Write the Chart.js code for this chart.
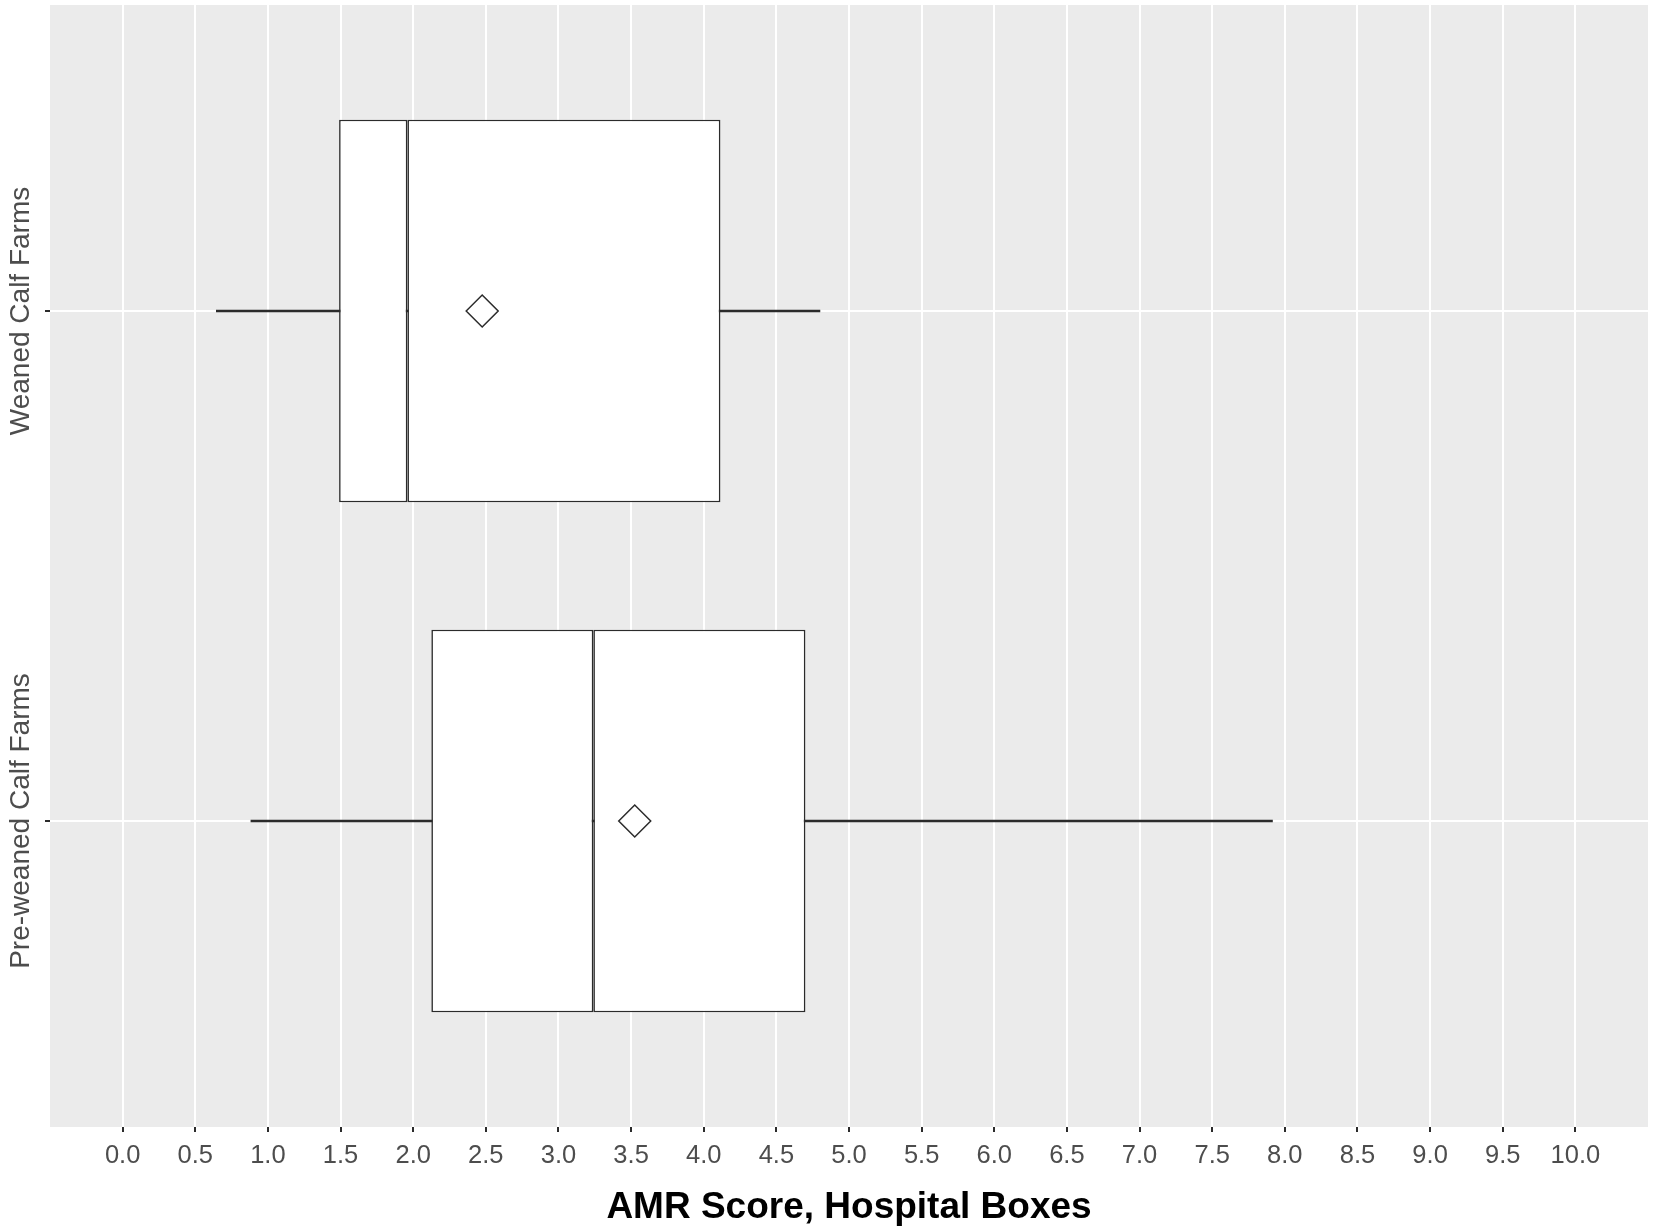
<!DOCTYPE html>
<html>
<head>
<meta charset="utf-8">
<script src="https://cdn.jsdelivr.net/npm/chart.js@4.4.1/dist/chart.umd.min.js"></script>
<style>
  body { margin: 0; background: #ffffff; }
  #wrap { width: 1654px; height: 1229px; }
</style>
</head>
<body>
<div id="wrap"><canvas id="amrChart" width="1654" height="1229"></canvas></div>
<script>
// categories, bottom to top (index 0 is drawn at the bottom, like ggplot)
const categories = ['Pre-weaned Calf Farms', 'Weaned Calf Farms'];

// box plot summaries
const whiskerLow = [0.883, 0.645];
const q1 = [2.125, 1.490];
const median = [3.240, 1.960];
const q3 = [4.700, 4.115];
const whiskerHigh = [7.915, 4.800];
const means = [3.525, 2.475];

// x axis tick labels
const xTickValues = [0.0, 0.5, 1.0, 1.5, 2.0, 2.5, 3.0, 3.5, 4.0, 4.5, 5.0,
  5.5, 6.0, 6.5, 7.0, 7.5, 8.0, 8.5, 9.0, 9.5, 10.0];

const lineColor = '#2b2b2b';
const textGrey = '#4D4D4D';

// grey panel behind the grid
const panelBackground = {
  id: 'panelBackground',
  beforeDraw(chart) {
    const { ctx, chartArea: a } = chart;
    ctx.save();
    ctx.fillStyle = '#EBEBEB';
    ctx.fillRect(a.left, a.top, a.right - a.left, a.bottom - a.top);
    ctx.restore();
  }
};

// rotated category labels on the left (Chart.js won't rotate y tick labels)
const categoryLabels = {
  id: 'categoryLabels',
  afterDraw(chart) {
    const { ctx } = chart;
    const yScale = chart.scales.y;
    ctx.save();
    ctx.fillStyle = textGrey;
    ctx.font = '28px "Liberation Sans", Arial, sans-serif';
    ctx.textAlign = 'center';
    ctx.textBaseline = 'middle';
    categories.forEach((label, i) => {
      const y = yScale.getPixelForValue(i);
      ctx.save();
      ctx.translate(21, y);
      ctx.rotate(-Math.PI / 2);
      ctx.fillText(label, 0, 0);
      ctx.restore();
    });
    ctx.restore();
  }
};

const boxStyle = {
  type: 'bar',
  backgroundColor: '#FFFFFF',
  borderColor: lineColor,
  borderWidth: 1.6,
  borderSkipped: false,
  grouped: false,
  categoryPercentage: 1,
  barPercentage: 0.75,
  order: 2
};

const ctx = document.getElementById('amrChart').getContext('2d');
new Chart(ctx, {
  type: 'bar',
  data: {
    datasets: [
      {
        type: 'scatter',
        label: 'Mean',
        data: categories.map((c, i) => ({ x: means[i], y: i })),
        pointStyle: 'rectRot',
        pointRadius: 16,
        pointBorderWidth: 1.5,
        pointBorderColor: lineColor,
        pointBackgroundColor: 'rgba(255,255,255,0)',
        order: 1
      },
      Object.assign({}, boxStyle, {
        label: 'Q1-Median',
        data: categories.map((c, i) => ({ x: [q1[i], median[i]], y: i }))
      }),
      Object.assign({}, boxStyle, {
        label: 'Median-Q3',
        data: categories.map((c, i) => ({ x: [median[i], q3[i]], y: i }))
      }),
      {
        type: 'bar',
        label: 'Whisker',
        data: categories.map((c, i) => ({ x: [whiskerLow[i], whiskerHigh[i]], y: i })),
        backgroundColor: lineColor,
        borderWidth: 0,
        barThickness: 1.8,
        grouped: false,
        order: 3
      }
    ]
  },
  options: {
    indexAxis: 'y',
    responsive: false,
    devicePixelRatio: 1,
    animation: false,
    layout: { autoPadding: false, padding: { top: 5, right: 6, left: 0, bottom: 0 } },
    plugins: {
      legend: { display: false },
      tooltip: { enabled: false }
    },
    scales: {
      x: {
        type: 'linear',
        position: 'bottom',
        min: -0.5,
        max: 10.5,
        afterBuildTicks(scale) {
          scale.ticks = xTickValues.map(v => ({ value: v }));
        },
        afterFit(scale) {
          scale.height = 102;
        },
        grid: {
          color: '#FFFFFF',
          lineWidth: 2,
          drawTicks: true,
          tickLength: 5,
          tickColor: lineColor,
          tickWidth: 2
        },
        border: { display: false },
        ticks: {
          color: textGrey,
          font: { family: '"Liberation Sans", Arial, sans-serif', size: 25.5 },
          padding: 9,
          maxRotation: 0,
          autoSkip: false,
          callback: (value) => Number(value).toFixed(1)
        },
        title: {
          display: true,
          text: 'AMR Score, Hospital Boxes',
          color: '#000000',
          font: { family: '"Liberation Sans", Arial, sans-serif', size: 37, weight: 'bold', lineHeight: 1 },
          padding: { top: 0, bottom: 2.5 }
        }
      },
      y: {
        type: 'linear',
        position: 'left',
        min: -0.6,
        max: 1.6,
        offset: false,
        afterBuildTicks(scale) {
          scale.ticks = categories.map((c, i) => ({ value: i }));
        },
        afterFit(scale) {
          scale.width = 50;
        },
        grid: {
          offset: false,
          color: '#FFFFFF',
          lineWidth: 2,
          drawTicks: true,
          tickLength: 5,
          tickColor: lineColor,
          tickWidth: 2
        },
        border: { display: false },
        ticks: { display: false }
      }
    }
  },
  plugins: [panelBackground, categoryLabels]
});
</script>
</body>
</html>
